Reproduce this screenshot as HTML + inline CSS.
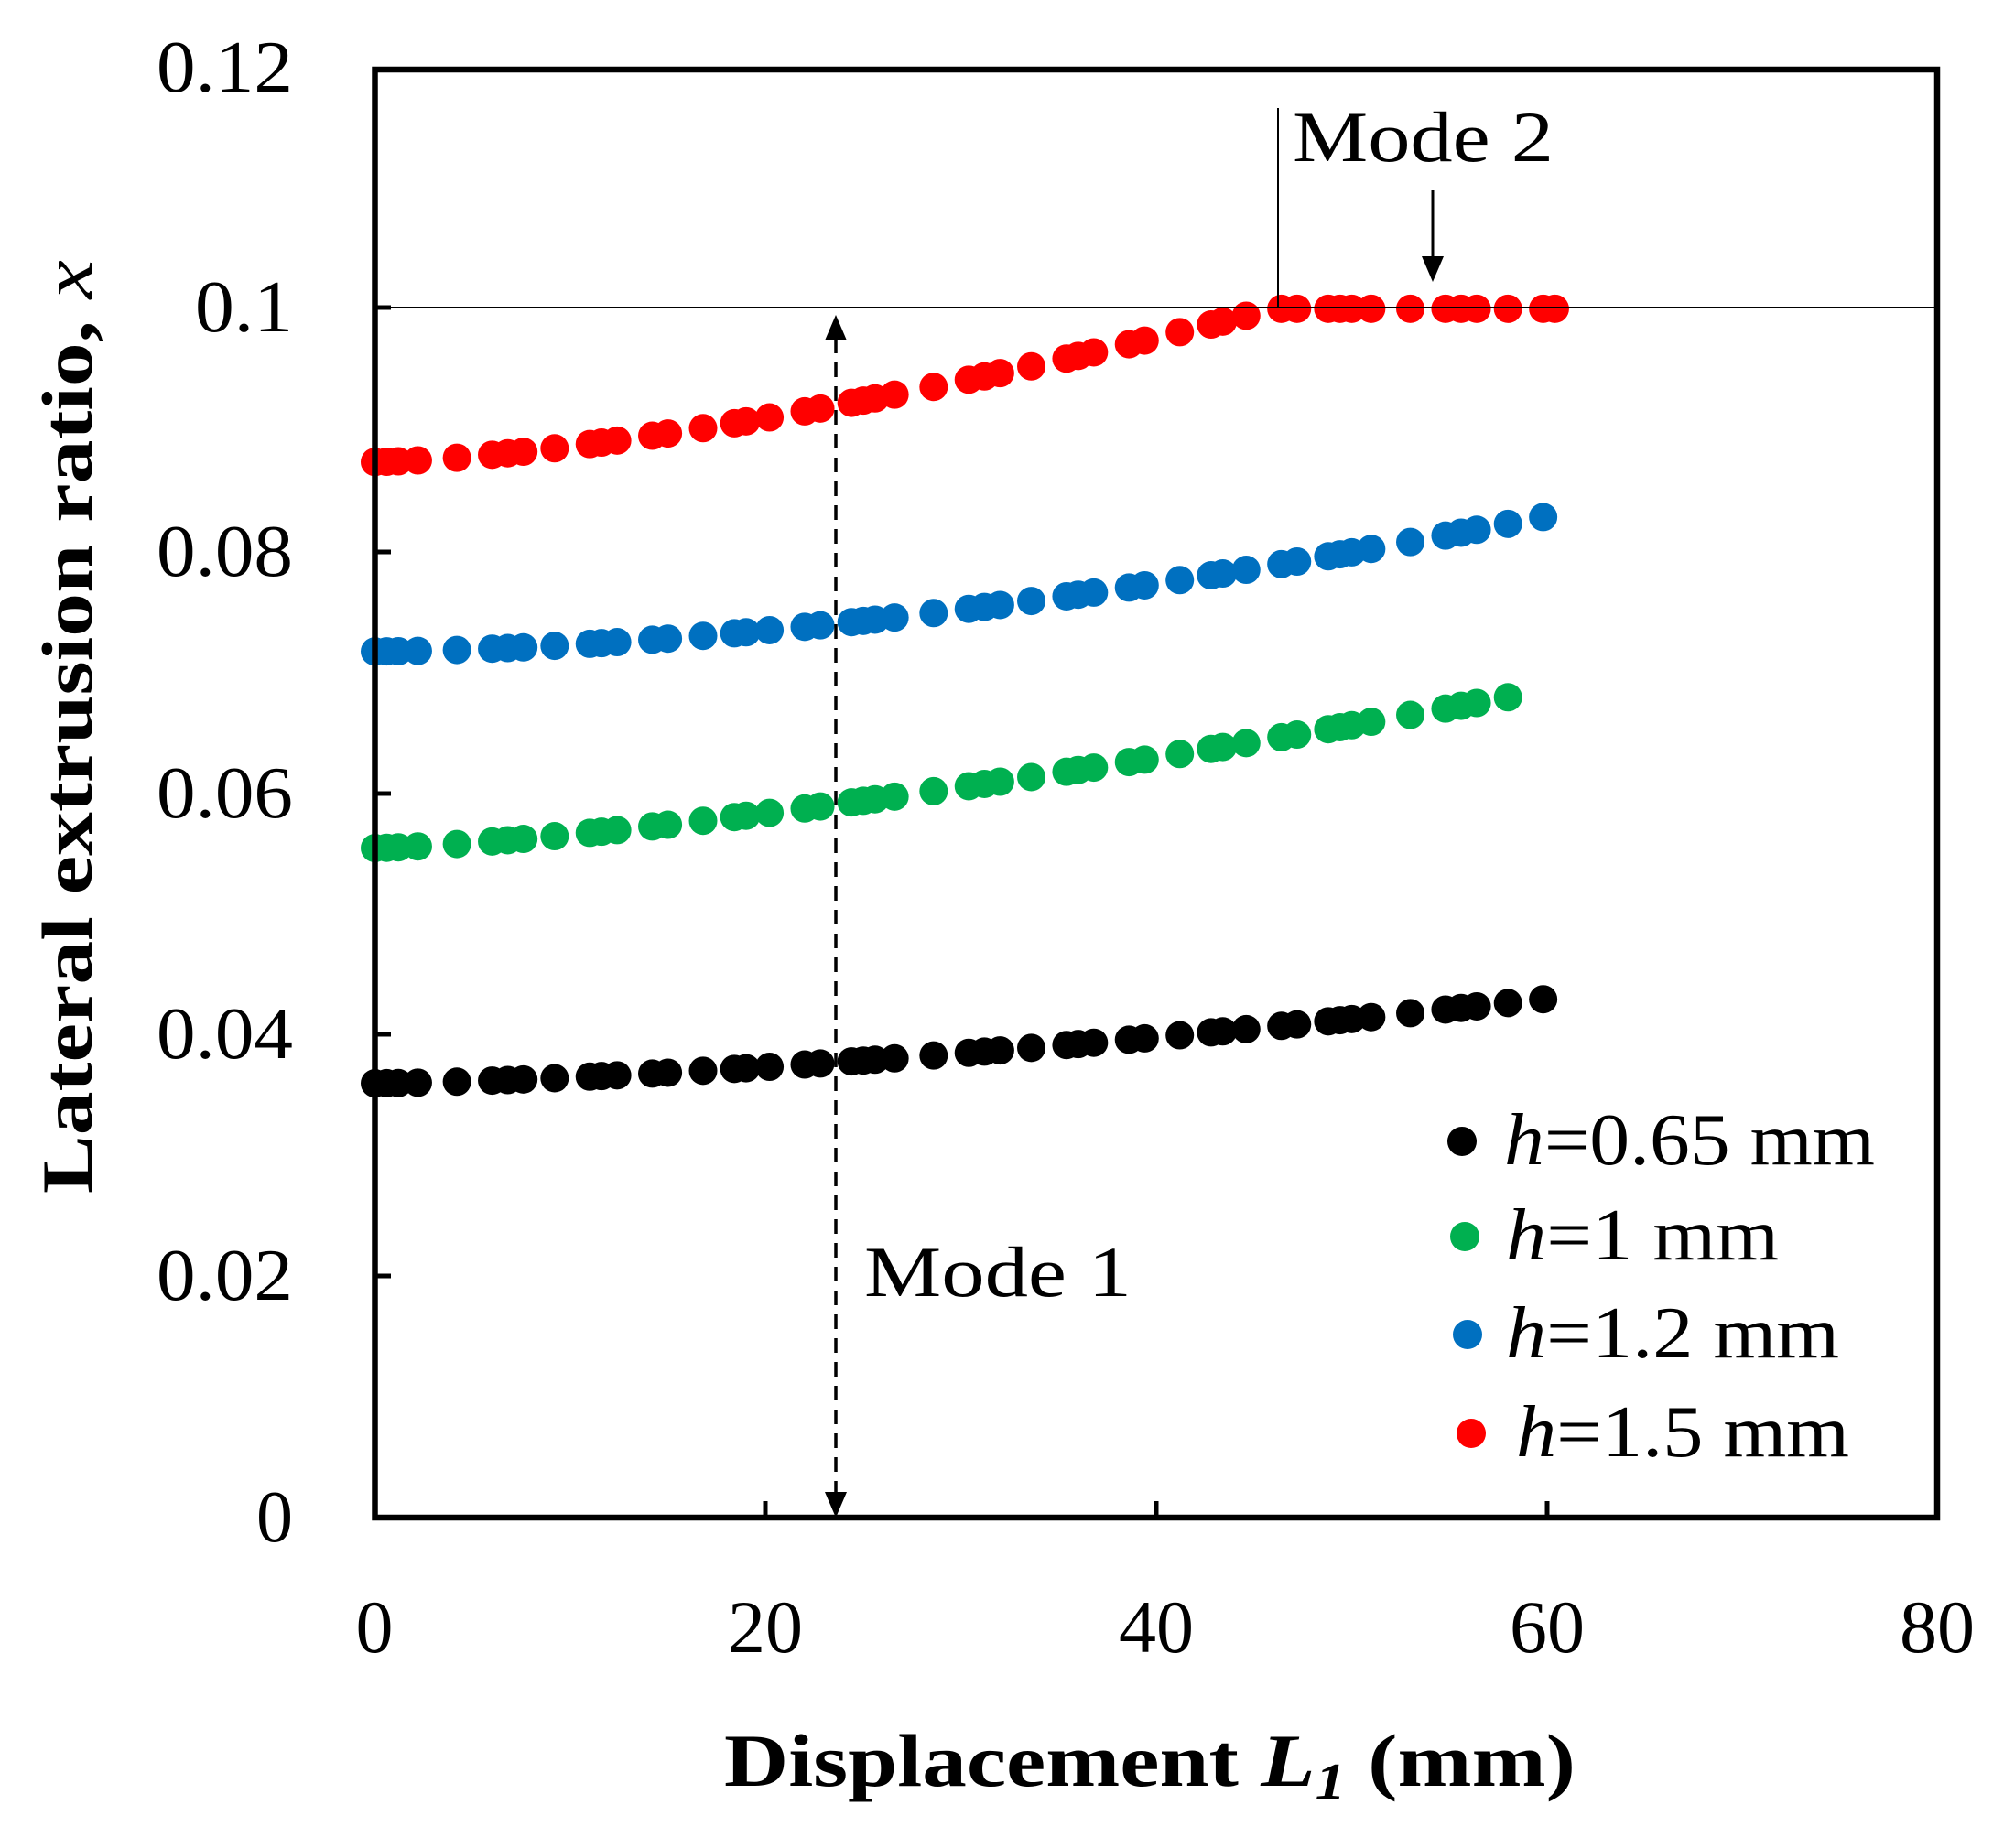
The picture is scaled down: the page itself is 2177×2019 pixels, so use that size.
<!DOCTYPE html>
<html><head><meta charset="utf-8"><style>html,body{margin:0;padding:0;background:#fff}svg{display:block}</style></head>
<body>
<svg id="s" width="2177" height="2019" viewBox="0 0 2177 2019" xmlns="http://www.w3.org/2000/svg" font-family="'Liberation Serif',serif">
<rect width="2177" height="2019" fill="#fff"/>
<g id="pts"></g>
<line x1="409" y1="336" x2="2116" y2="336" stroke="#000" stroke-width="2"/>
<rect x="409.5" y="76" width="1706.5" height="1582" fill="none" stroke="#000" stroke-width="6.5"/>
<g stroke="#000" stroke-width="5">
<line x1="836" y1="1658" x2="836" y2="1640"/><line x1="1263" y1="1658" x2="1263" y2="1640"/><line x1="1690" y1="1658" x2="1690" y2="1640"/>
<line x1="409" y1="1394" x2="427" y2="1394"/><line x1="409" y1="1130" x2="427" y2="1130"/><line x1="409" y1="867" x2="427" y2="867"/><line x1="409" y1="603" x2="427" y2="603"/><line x1="409" y1="336" x2="427" y2="336"/>
</g>
<g font-size="80" text-anchor="end" lengthAdjust="spacingAndGlyphs">
<text x="320" y="1684">0</text>
<text x="320" y="1420" textLength="149" lengthAdjust="spacingAndGlyphs">0.02</text>
<text x="320" y="1156" textLength="149" lengthAdjust="spacingAndGlyphs">0.04</text>
<text x="320" y="893" textLength="149" lengthAdjust="spacingAndGlyphs">0.06</text>
<text x="320" y="629" textLength="149" lengthAdjust="spacingAndGlyphs">0.08</text>
<text x="320" y="362" textLength="107" lengthAdjust="spacingAndGlyphs">0.1</text>
<text x="320" y="100" textLength="149" lengthAdjust="spacingAndGlyphs">0.12</text>
</g>
<g font-size="82" text-anchor="middle">
<text x="409" y="1805">0</text><text x="836" y="1805">20</text><text x="1263" y="1805">40</text><text x="1690" y="1805">60</text><text x="2116" y="1805">80</text>
</g>
<text x="791" y="1951" font-size="82" font-weight="bold" textLength="930" lengthAdjust="spacingAndGlyphs">Displacement <tspan font-style="italic">L<tspan font-size="56" dy="14">1</tspan></tspan><tspan dy="-14"> (mm)</tspan></text>
<text transform="translate(100,794) rotate(-90)" text-anchor="middle" font-size="78" font-weight="bold" textLength="1020" lengthAdjust="spacingAndGlyphs">Lateral extrusion ratio, <tspan font-style="italic" font-weight="normal">x</tspan></text>
<line x1="913" y1="370" x2="913" y2="1630" stroke="#000" stroke-width="3.5" stroke-dasharray="16,10"/>
<polygon points="913,344 901,372 925,372" fill="#000"/>
<polygon points="913,1658 901,1630 925,1630" fill="#000"/>
<text x="944" y="1416" font-size="78" textLength="292" lengthAdjust="spacingAndGlyphs">Mode 1</text>
<line x1="1396" y1="118" x2="1396" y2="336" stroke="#000" stroke-width="2"/>
<text x="1412" y="176" font-size="78" textLength="285" lengthAdjust="spacingAndGlyphs">Mode 2</text>
<line x1="1565" y1="208" x2="1565" y2="285" stroke="#000" stroke-width="3"/>
<polygon points="1565,308 1553,280 1577,280" fill="#000"/>
<circle cx="1597" cy="1247" r="16" fill="#000"/>
<circle cx="1600" cy="1351" r="16" fill="#00b050"/>
<circle cx="1603" cy="1458" r="16" fill="#0070c0"/>
<circle cx="1607" cy="1566" r="16" fill="#ff0000"/>
<g font-size="80">
<text x="1643" y="1272" textLength="405" lengthAdjust="spacingAndGlyphs"><tspan font-style="italic">h</tspan>=0.65 mm</text>
<text x="1645" y="1376" textLength="298" lengthAdjust="spacingAndGlyphs"><tspan font-style="italic">h</tspan>=1 mm</text>
<text x="1645" y="1483" textLength="364" lengthAdjust="spacingAndGlyphs"><tspan font-style="italic">h</tspan>=1.2 mm</text>
<text x="1656" y="1591" textLength="364" lengthAdjust="spacingAndGlyphs"><tspan font-style="italic">h</tspan>=1.5 mm</text>
</g>
<script>
(function(){
var g=document.getElementById('pts'),ns='http://www.w3.org/2000/svg';
function X(L){return 409.5+21.34*L}
function Y(v){return 1658-13180*v}
var Ls=[];var L=0,k=0;var steps=[0.6,0.6,1.0,2.0,1.8,0.8,0.8,1.6,1.8,0.6,0.8,1.8,0.8,1.8,1.6,0.6,1.2,1.8,0.8,1.6];
while(L<=60.5){Ls.push(L);L+=steps[k%steps.length];k++;}
function add(col,f,maxL){Ls.forEach(function(l){if(l>maxL)return;var c=document.createElementNS(ns,'circle');c.setAttribute('cx',X(l));c.setAttribute('cy',Y(f(l)));c.setAttribute('r',15.5);c.setAttribute('fill',col);g.appendChild(c);});}
add('#000',function(l){return 0.036+0.007*Math.pow(l/60,1.5)},60.2);
add('#00b050',function(l){return 0.0555+0.0125*Math.pow(l/58,1.38)},58.2);
add('#0070c0',function(l){return 0.0718+0.0112*Math.pow(l/60,1.7)},60.2);
add('#ff0000',function(l){return l>=46?0.1002:0.0875+0.0127*Math.pow(l/46,1.5)},60.6);
})();
</script>
</svg>
</body></html>
